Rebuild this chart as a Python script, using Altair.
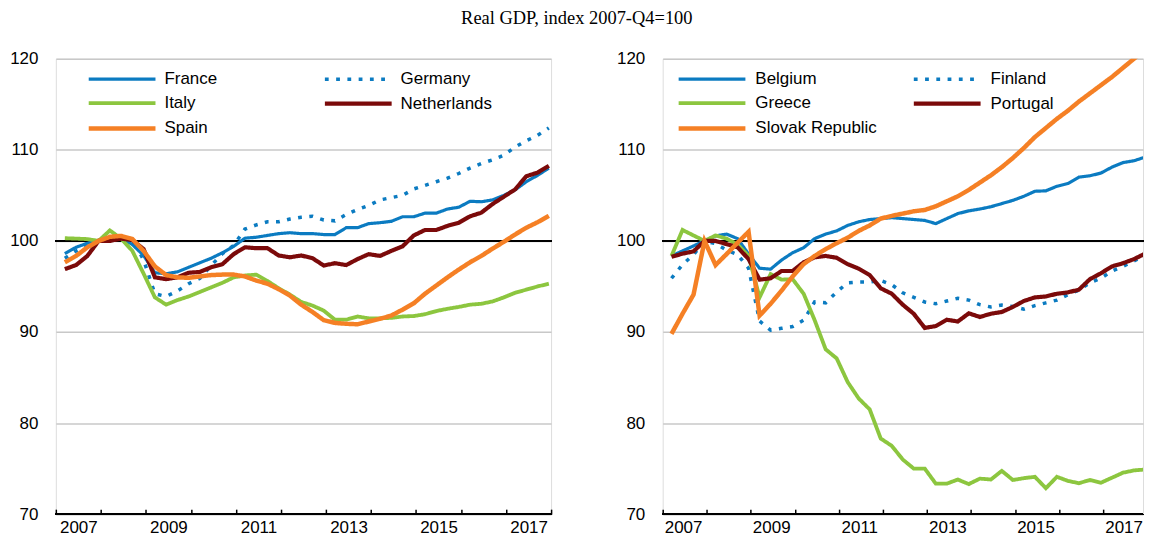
import altair as alt
import pandas as pd

years = list(range(2007, 2018))
quarters = [f"{y}-Q{q}" for y in years for q in range(1, 5)]

left_countries = ["France", "Germany", "Italy", "Netherlands", "Spain"]
right_countries = ["Belgium", "Finland", "Greece", "Portugal", "Slovak Republic"]

france = [98.6, 99.3, 99.75, 100.0, 100.4, 100.3, 99.6, 98.4, 96.5, 96.4, 96.6, 97.1, 97.6, 98.1, 98.7,
          99.4, 100.3, 100.4, 100.6, 100.8, 100.9, 100.8, 100.8, 100.7, 100.7, 101.45, 101.45, 101.9, 102.0,
          102.15, 102.65, 102.65, 103.05, 103.05, 103.5, 103.7, 104.35, 104.3, 104.5, 105.0, 105.6, 106.5,
          107.2, 108.0]
germany = [98.1, 98.9, 99.5, 100.0, 100.4, 100.5, 100.2, 97.9, 94.2, 93.9, 94.5, 95.3, 95.9, 97.3, 98.6,
           99.5, 101.3, 101.75, 102.1, 102.1, 102.4, 102.6, 102.7, 102.3, 102.2, 102.9, 103.45, 103.9, 104.5,
           104.75, 105.0, 105.7, 106.1, 106.5, 106.9, 107.4, 108.0, 108.5, 108.9, 109.4, 110.3, 111.0, 111.6,
           112.4]
italy = [100.3, 100.25, 100.2, 100.0, 101.15, 100.25, 98.9, 96.4, 93.8, 93.0, 93.5, 93.9, 94.4, 94.9, 95.4,
         96.0, 96.2, 96.3, 95.6, 94.8, 94.1, 93.3, 92.9, 92.35, 91.35, 91.35, 91.7, 91.5, 91.5, 91.55, 91.7,
         91.75, 91.95, 92.3, 92.55, 92.75, 93.0, 93.1, 93.35, 93.8, 94.3, 94.65, 95.0, 95.3]
netherlands = [96.9, 97.35, 98.35, 100.0, 100.0, 100.25, 100.1, 99.1, 96.0, 95.8, 96.0, 96.5, 96.6, 97.1,
               97.45, 98.55, 99.3, 99.2, 99.2, 98.4, 98.2, 98.4, 98.1, 97.3, 97.55, 97.35, 98.0, 98.55, 98.35,
               98.9, 99.4, 100.6, 101.2, 101.2, 101.65, 102.0, 102.7, 103.1, 104.05, 104.85, 105.65, 107.1,
               107.5, 108.25]
spain = [97.65, 98.35, 99.3, 100.0, 100.45, 100.55, 100.2, 98.9, 97.2, 96.25, 96.0, 95.95, 96.1, 96.25, 96.3,
         96.3, 96.1, 95.65, 95.3, 94.7, 94.0, 93.0, 92.2, 91.3, 91.0, 90.9, 90.85, 91.15, 91.45, 91.8, 92.45,
         93.15, 94.2, 95.1, 96.0, 96.85, 97.65, 98.35, 99.15, 99.9, 100.7, 101.45, 102.05, 102.75]

belgium = [98.35, 98.9, 99.45, 100.0, 100.55, 100.75, 100.25, 98.55, 97.0, 96.9, 97.9, 98.7, 99.25, 100.25,
           100.75, 101.1, 101.7, 102.1, 102.35, 102.45, 102.55, 102.45, 102.35, 102.25, 101.9, 102.45, 103.0,
           103.3, 103.5, 103.75, 104.1, 104.45, 104.9, 105.45, 105.5, 106.0, 106.3, 107.0, 107.15, 107.45,
           108.1, 108.6, 108.8, 109.2]
finland = [95.9, 97.4, 98.5, 100.0, 99.7, 99.0, 98.5, 97.0, 91.2, 90.2, 90.4, 90.6, 91.3, 93.3, 93.2, 94.4,
           95.4, 95.5, 95.5, 95.65, 95.2, 94.3, 93.8, 93.3, 93.1, 93.4, 93.7, 93.5, 93.0, 92.75, 92.95, 92.8,
           92.5, 92.9, 93.2, 93.5, 94.1, 94.6, 95.4, 95.9, 96.7, 97.2, 97.8, 98.4]
greece = [98.35, 101.2, 100.6, 100.0, 100.6, 100.25, 99.6, 98.35, 93.8, 96.35, 95.75, 95.8, 94.2, 91.3, 88.1,
          87.1, 84.5, 82.7, 81.5, 78.3, 77.5, 76.0, 75.0, 75.0, 73.35, 73.35, 73.8, 73.3, 73.9, 73.8, 74.75,
          73.75, 73.95, 74.1, 72.85, 74.1, 73.65, 73.4, 73.75, 73.45, 74.0, 74.55, 74.8, 74.9]
portugal = [98.25, 98.6, 98.85, 100.0, 100.0, 99.65, 99.3, 98.0, 95.75, 95.9, 96.7, 96.7, 97.65, 98.2, 98.35,
            98.15, 97.45, 96.95, 96.25, 94.8, 94.2, 93.0, 92.0, 90.45, 90.65, 91.35, 91.15, 92.05, 91.65, 92.0,
            92.2, 92.75, 93.4, 93.8, 93.9, 94.2, 94.35, 94.65, 95.8, 96.45, 97.2, 97.55, 98.0, 98.6]
slovak = [89.8, 92.0, 94.1, 100.0, 97.35, 98.55, 99.8, 101.0, 91.8, 93.1, 94.55, 96.1, 97.45, 98.35, 99.1,
          99.75, 100.35, 101.1, 101.7, 102.45, 102.75, 103.0, 103.25, 103.4, 103.8, 104.35, 104.9, 105.6,
          106.4, 107.2, 108.1, 109.1, 110.2, 111.4, 112.4, 113.4, 114.3, 115.3, 116.2, 117.1, 118.0, 119.0,
          120.0, 121.0]

left_series = [france, germany, italy, netherlands, spain]
right_series = [belgium, finland, greece, portugal, slovak]

colors = ["#0b7bc1", "#0b7bc1", "#8cc63f", "#7b0a0a", "#f58025"]
dashes = [[1, 0], [3.8, 7.5], [1, 0], [1, 0], [1, 0]]
widths = [3.2, 4.5, 3.2, 3.2, 3.2]

TITLE = "Real GDP, index 2007-Q4=100"
SANS = "Liberation Sans, Arial"
FS = 17
LEGEND_LINE = "M-3.35,0H3.35"


def quarter_pos(label):
    y, q = label.split("-Q")
    return int(y) + (int(q) - 0.2) / 4


def make_frame(countries, series):
    rows = []
    for c, vals in zip(countries, series):
        for lab, v in zip(quarters, vals):
            rows.append({"country": c, "quarter": lab, "t": quarter_pos(lab), "value": v})
    return pd.DataFrame(rows)


def panel(countries, series, width, xmax, col_pad, legend_x, label_off, last_off):
    df = make_frame(countries, series)
    xscale = alt.Scale(domain=[2007, xmax], nice=False, zero=False)
    yscale = alt.Scale(domain=[70, 120], nice=False, zero=False)
    tick_years = [y for y in range(2007, 2019) if y <= xmax]
    legend = alt.Legend(
        title=None, orient="none", legendX=legend_x, legendY=8.5, columns=2, direction="horizontal",
        columnPadding=col_pad, rowPadding=4, padding=0,
        symbolType=LEGEND_LINE, symbolSize=400, symbolStrokeWidth=3.5,
        labelFontSize=FS, labelFont=SANS, labelColor="#000000", labelOffset=label_off,
        labelLimit=300,
    )
    lines = alt.Chart(df).mark_line(clip=True, strokeCap="butt").encode(
        x=alt.X("t:Q", scale=xscale, title=None,
                axis=alt.Axis(values=tick_years, grid=False, domain=False, ticks=True,
                              tickSize=5, tickColor="#000000", tickWidth=1.5, offset=-5,
                              labelExpr="datum.value % 2 == 1 && datum.value < 2018 ? toString(datum.value) : ''",
                              labelOffset={"condition": {"test": "datum.value >= 2018", "value": 0},
                                           "value": last_off},
                              labelPadding=5, labelFontSize=FS, labelFont=SANS,
                              labelColor="#000000", labelOverlap=False, labelFlush=False)),
        y=alt.Y("value:Q", scale=yscale, title=None,
                axis=alt.Axis(values=[70, 80, 90, 100, 110, 120], grid=True, gridColor="#c8c8c8",
                              gridWidth=1.5, domain=False, ticks=False, labelPadding=18,
                              labelFontSize=FS, labelFont=SANS, labelColor="#000000")),
        color=alt.Color("country:N", scale=alt.Scale(domain=countries, range=colors), legend=legend),
        strokeDash=alt.StrokeDash("country:N", scale=alt.Scale(domain=countries, range=dashes), legend=legend),
        strokeWidth=alt.StrokeWidth("country:N", scale=alt.Scale(domain=countries, range=widths), legend=None),
        order=alt.Order("t:Q"),
    )
    base_rule = alt.Chart(df).mark_rule(color="#000000", strokeWidth=1.5).encode(y=alt.datum(70))
    hundred = alt.Chart(df).mark_rule(color="#000000", strokeWidth=2).encode(y=alt.datum(100))
    return alt.layer(base_rule, hundred, lines).properties(width=width, height=457)


left = panel(left_countries, left_series, 497, 2018, 99, 54, 30, 22.6)
right = panel(right_countries, right_series, 482, 2007 + 482 / 44.2, 28, 37, 31, 20.5)

chart = alt.hconcat(left, right, spacing=63).resolve_scale(
    color="independent", strokeDash="independent", strokeWidth="independent"
).properties(
    title=alt.TitleParams(TITLE, font="Liberation Serif", fontSize=18.5, fontWeight="normal",
                          color="#000000", anchor="middle", offset=22),
    padding={"left": 1, "top": 0, "right": 0, "bottom": 0},
).configure_view(stroke=None).configure(background="#ffffff")

chart.save("out.html", embed_options={"renderer": "svg", "actions": False})
